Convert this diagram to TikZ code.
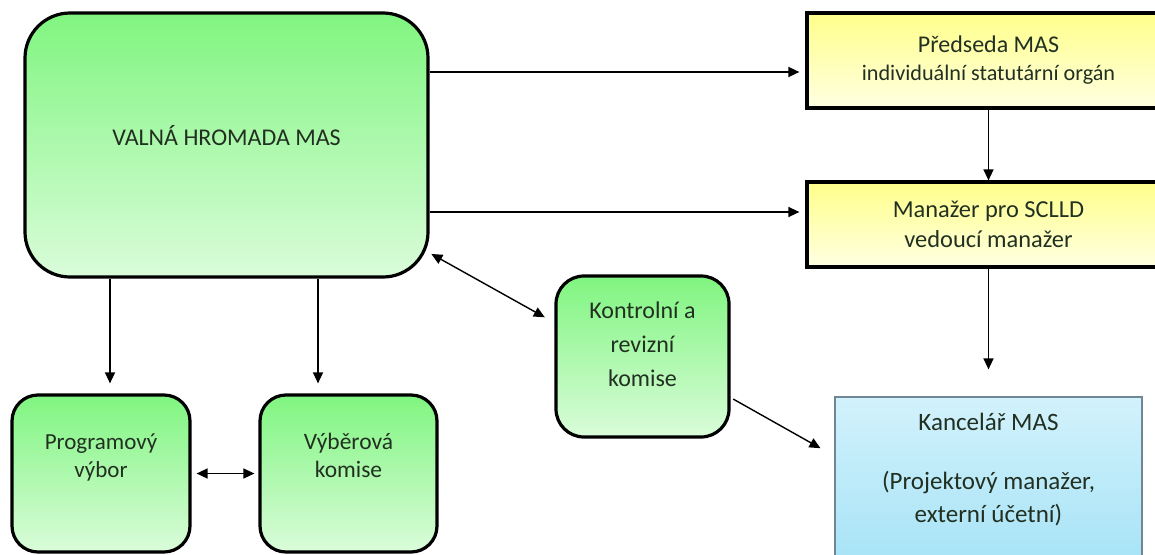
\documentclass[tikz,border=0pt]{standalone}
\usepackage{fontspec}
\setmainfont{Carlito}
\usetikzlibrary{arrows.meta}
\definecolor{txtc}{HTML}{223022}
\definecolor{gtop}{HTML}{80F580}
\definecolor{gbot}{HTML}{DAFCDA}
\definecolor{ytop}{HTML}{FFFF8A}
\definecolor{ybot}{HTML}{FFFFE2}
\definecolor{btop}{HTML}{D2F2FC}
\definecolor{bbot}{HTML}{A4E2F6}
\definecolor{bline}{HTML}{6F8794}
\tikzset{
  gbox/.style={draw=black, line width=3.2pt, top color=gtop, bottom color=gbot,
    align=center, text=txtc, font=\fontsize{24}{34}\selectfont, inner sep=0pt},
  ybox/.style={draw=black, line width=3.2pt, top color=ytop, bottom color=ybot,
    align=center, text=txtc, inner sep=0pt},
  bbox/.style={draw=bline, line width=1.2pt, top color=btop, bottom color=bbot,
    align=center, text=txtc, font=\fontsize{25}{33}\selectfont, inner sep=0pt},
  arr/.style={line width=1.4pt, -{Triangle[length=11pt,width=10pt]}},
  darr/.style={line width=1.4pt, {Triangle[length=11pt,width=10pt]}-{Triangle[length=11pt,width=10pt]}},
}
\begin{document}
\begin{tikzpicture}[x=1pt,y=-1pt]
\useasboundingbox (0,0) rectangle (1155,554);
\clip (0,0) rectangle (1155,554);

\node[gbox, rounded corners=45pt, minimum width=403pt, minimum height=264pt,
  text depth=20pt, font=\fontsize{24}{30}\selectfont] (valna) at (226.5,145) {VALNÁ HROMADA MAS};

\node[ybox, minimum width=363pt, minimum height=95pt,
  font=\fontsize{22.2}{28}\selectfont] (pred) at (988.5,60.5)
  {{\fontsize{24}{28}\selectfont Předseda MAS}\\individuální statutární orgán};
\node[ybox, minimum width=363pt, minimum height=85pt,
  font=\fontsize{24.4}{30}\selectfont] (man) at (988.5,224.5)
  {Manažer pro SCLLD\\vedoucí manažer};

\node[gbox, rounded corners=28pt, minimum width=173pt, minimum height=161pt,
  text depth=24pt] (kon) at (642.5,356.5) {Kontrolní a\\revizní\\komise};

\node[gbox, rounded corners=26pt, minimum width=178pt, minimum height=157pt,
  text depth=36pt, font=\fontsize{23}{28}\selectfont] (prog) at (101,473.5) {Programový\\výbor};
\node[gbox, rounded corners=26pt, minimum width=177pt, minimum height=157pt,
  text depth=36pt, font=\fontsize{23.5}{28}\selectfont] (vyb) at (348.5,473.5) {Výběrová\\komise};

\node[bbox, minimum width=307pt, minimum height=178pt, text depth=36pt]
  (kanc) at (988.5,486) {Kancelář MAS\\[26pt](Projektový manažer,\\externí účetní)};

\coordinate (h1) at (0,72);
\coordinate (h2) at (0,212);
\coordinate (v1) at (110,0);
\coordinate (v2) at (318,0);

\draw[arr, shorten >=6pt] (valna.east |- h1) -- (pred.west |- h1);
\draw[arr, shorten >=6pt] (valna.east |- h2) -- (man.west |- h2);
\draw[arr] (pred.south) -- (man.north);
\draw[arr, shorten >=27pt] (man.south) -- (kanc.north);
\draw[arr, shorten >=10pt] (valna.south -| v1) -- (prog.north -| v1);
\draw[arr, shorten >=10pt] (valna.south -| v2) -- (vyb.north -| v2);
\draw[darr, shorten <=5pt, shorten >=4pt] (prog.east) -- (vyb.west);
\draw[darr, shorten <=2pt, shorten >=11pt] (valna.-28.4) -- (kon.159.5);
\draw[arr, shorten <=3pt, shorten >=16pt] (kon.-25.7) -- (kanc.169);
\end{tikzpicture}
\end{document}
